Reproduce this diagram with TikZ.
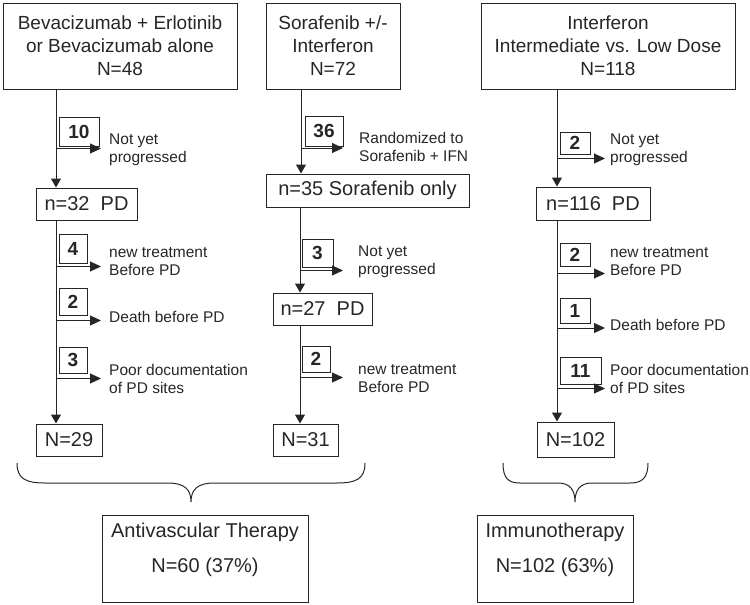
\documentclass[tikz,border=0pt]{standalone}
\usepackage{fontspec}
\setmainfont{Liberation Sans}
\usetikzlibrary{arrows.meta}
\definecolor{ink}{gray}{0.15}
\tikzset{
  boxa/.style={draw=ink, line width=1pt, inner sep=0pt, align=center, text=ink,
    font=\fontsize{20}{23}\selectfont},
  topbox/.style={boxa, font=\fontsize{19}{23}\selectfont},
  numbox/.style={draw=ink, line width=1pt, inner sep=0pt, text=ink,
    font=\bfseries\fontsize{19}{21}\selectfont},
  lbl/.style={anchor=west, inner sep=0pt, align=left, text=ink,
    font=\fontsize{15.5}{18}\selectfont},
  btxt/.style={inner sep=0pt, align=center, text=ink,
    font=\fontsize{20}{35}\selectfont},
  conn/.style={draw=ink, line width=1pt},
  brace/.style={draw=ink, line width=1pt},
}
\begin{document}
\begin{tikzpicture}[x=1pt,y=-1pt]
\useasboundingbox (0,0) rectangle (750,605);

% ---------- column 1 ----------
\coordinate (c1) at (56,0);
\coordinate (e1) at (101,0);
\node[topbox, minimum width=234pt, minimum height=86pt] (top1) at (120,46)
  {Bevacizumab + Erlotinib\\or Bevacizumab alone\\N=48};
\node[numbox, minimum width=40pt, minimum height=29pt] (b10) at (79,131.5) {10};
\node[lbl] (l10) at (109,150) {Not yet\\progressed};
\node[boxa, minimum width=101pt, minimum height=32pt] (n32) at (86.5,204) {n=32~~PD};
\node[numbox, minimum width=28pt, minimum height=29pt] (b4) at (73,248.5) {4};
\node[lbl] (l4) at (109,262) {new treatment\\Before PD};
\node[numbox, minimum width=28pt, minimum height=27pt] (b2a) at (73,301.5) {2};
\node[lbl] (l2a) at (109,317) {Death before PD};
\node[numbox, minimum width=28pt, minimum height=26pt] (b3a) at (73,360) {3};
\node[lbl] (l3a) at (109,379) {Poor documentation\\of PD sites};
\node[boxa, minimum width=66pt, minimum height=32pt] (N29) at (69,440) {N=29};

\draw[conn, -{Triangle[length=9pt,width=10pt]}] (top1.south -| c1) -- (n32.north -| c1);
\draw[conn, -{Triangle[length=9pt,width=10pt]}] (n32.south -| c1) -- (N29.north -| c1);
\draw[conn, -{Triangle[length=11pt,width=10pt]}] ([yshift=-2pt]b10.south -| c1) -- ([yshift=-2pt]b10.south -| e1);
\draw[conn, -{Triangle[length=11pt,width=10pt]}] ([yshift=-3pt]b4.south -| c1) -- ([yshift=-3pt]b4.south -| e1);
\draw[conn, -{Triangle[length=11pt,width=10pt]}] ([yshift=-5pt]b2a.south -| c1) -- ([yshift=-5pt]b2a.south -| e1);
\draw[conn, -{Triangle[length=11pt,width=10pt]}] ([yshift=-5pt]b3a.south -| c1) -- ([yshift=-5pt]b3a.south -| e1);

% ---------- column 2 ----------
\coordinate (c2) at (301,0);
\coordinate (c2b) at (300,0);
\coordinate (e2) at (343,0);
\node[topbox, minimum width=134pt, minimum height=86pt] (top2) at (333,46)
  {Sorafenib +/-\\Interferon\\N=72};
\node[numbox, minimum width=38pt, minimum height=30pt] (b36) at (324,131) {36};
\node[lbl] (l36) at (359,147) {Randomized to\\Sorafenib + IFN};
\node[boxa, minimum width=203pt, minimum height=33pt] (n35) at (367.5,190.5) {n=35 Sorafenib only};
\node[numbox, minimum width=31pt, minimum height=28pt] (b3b) at (317.5,253) {3};
\node[lbl] (l3b) at (358,262) {Not yet\\progressed};
\node[boxa, minimum width=99pt, minimum height=32pt] (n27) at (322.5,309) {n=27~~PD};
\node[numbox, minimum width=28pt, minimum height=26pt] (b2b) at (316,359) {2};
\node[lbl] (l2b) at (358,379) {new treatment\\Before PD};
\node[boxa, minimum width=65pt, minimum height=32pt] (N31) at (305.5,440) {N=31};

\draw[conn, -{Triangle[length=9pt,width=10pt]}] (top2.south -| c2) -- (n35.north -| c2);
\draw[conn, -{Triangle[length=9pt,width=10pt]}] (n35.south -| c2b) -- (n27.north -| c2b);
\draw[conn, -{Triangle[length=9pt,width=10pt]}] (n27.south -| c2b) -- (N31.north -| c2b);
\draw[conn, -{Triangle[length=11pt,width=10pt]}] ([yshift=-1.5pt]b36.south -| c2) -- ([yshift=-1.5pt]b36.south -| e2);
\draw[conn, -{Triangle[length=11pt,width=10pt]}] ([yshift=-3pt]b3b.south -| c2b) -- ([yshift=-3pt]b3b.south -| e2);
\draw[conn, -{Triangle[length=11pt,width=10pt]}] ([yshift=-5pt]b2b.south -| c2b) -- ([yshift=-5pt]b2b.south -| e2);

% ---------- column 3 ----------
\coordinate (c3) at (557,0);
\coordinate (e3) at (605,0);
\node[topbox, minimum width=254pt, minimum height=86pt] (top3) at (608,46)
  {Interferon\\Intermediate vs. Low Dose\\N=118};
\node[numbox, minimum width=30pt, minimum height=22pt] (b2c) at (575,143) {2};
\node[lbl] (l2c) at (610,150) {Not yet\\progressed};
\node[boxa, minimum width=114pt, minimum height=33pt] (n116) at (593,203.5) {n=116~~PD};
\node[numbox, minimum width=30pt, minimum height=23pt] (b2d) at (575,254.5) {2};
\node[lbl] (l2d) at (610,262) {new treatment\\Before PD};
\node[numbox, minimum width=30pt, minimum height=25pt] (b1) at (575,311) {1};
\node[lbl] (l1) at (610,325) {Death before PD};
\node[numbox, minimum width=41pt, minimum height=27pt] (b11) at (580.5,370.5) {11};
\node[lbl] (l11) at (610,379) {Poor documentation\\of PD sites};
\node[boxa, minimum width=77pt, minimum height=35pt] (N102) at (575.5,439.5) {N=102};

\draw[conn, -{Triangle[length=9pt,width=10pt]}] (top3.south -| c3) -- (n116.north -| c3);
\draw[conn, -{Triangle[length=9pt,width=10pt]}] (n116.south -| c3) -- (N102.north -| c3);
\draw[conn, -{Triangle[length=11pt,width=10pt]}] ([yshift=-4pt]b2c.south -| c3) -- ([yshift=-4pt]b2c.south -| e3);
\draw[conn, -{Triangle[length=11pt,width=10pt]}] ([yshift=-7pt]b2d.south -| c3) -- ([yshift=-7pt]b2d.south -| e3);
\draw[conn, -{Triangle[length=11pt,width=10pt]}] ([yshift=-4pt]b1.south -| c3) -- ([yshift=-4pt]b1.south -| e3);
\draw[conn, -{Triangle[length=11pt,width=10pt]}] ([yshift=-4pt]b11.south -| c3) -- ([yshift=-4pt]b11.south -| e3);

% ---------- braces ----------
\draw[brace] (17,463) .. controls (17,479) and (26,483) .. (45,483) -- (168,483)
  .. controls (185,483) and (191,490) .. (191,502)
  .. controls (191,490) and (197,483) .. (214,483) -- (337,483)
  .. controls (356,483) and (365,479) .. (365,463);
\draw[brace] (503,463) .. controls (503,478) and (508,483) .. (520,483) -- (558,483)
  .. controls (570,483) and (575,490) .. (575,502)
  .. controls (575,490) and (580,483) .. (592,483) -- (630,483)
  .. controls (642,483) and (648,478) .. (648,463);

% ---------- bottom boxes ----------
\node[draw=ink, line width=1pt, minimum width=206pt, minimum height=87pt, inner sep=0pt] (av) at (205,558.5) {};
\node[btxt] (avt) at (205,549.5) {Antivascular Therapy\\N=60 (37\%)};
\node[draw=ink, line width=1pt, minimum width=156pt, minimum height=87pt, inner sep=0pt] (im) at (555,558.5) {};
\node[btxt] (imt) at (555,549.5) {Immunotherapy\\N=102 (63\%)};
\end{tikzpicture}
\end{document}
